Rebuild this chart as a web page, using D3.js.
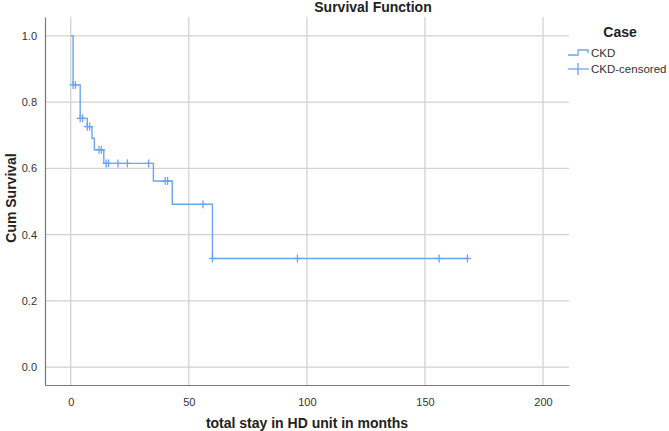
<!DOCTYPE html>
<html>
<head>
<meta charset="utf-8">
<script src="https://cdn.jsdelivr.net/npm/d3@7"></script>
<style>
  body { margin: 0; background: #fff; }
  text { font-family: "Liberation Sans", Arial, sans-serif; }
</style>
</head>
<body>
<svg id="chart" width="669" height="431"></svg>
<script>
// Kaplan-Meier step: event times and survival after each step
var stepTimes = [0, 1, 4, 7, 9, 10, 14, 35, 43, 60];
var stepSurv  = [1.0, 0.852, 0.751, 0.726, 0.691, 0.656, 0.615, 0.562, 0.4915, 0.328];
var lastTime = 168;

// censored observations
var censTimes = [1, 2, 4, 5, 7, 8, 12, 13, 15, 16, 20, 24, 33, 40, 41, 56, 60, 96, 156, 168];

var xTicks = [0, 50, 100, 150, 200];
var yTicks = [0.0, 0.2, 0.4, 0.6, 0.8, 1.0];

var svg = d3.select("#chart");
var pLeft = 45, pRight = 569, pTop = 17, pBottom = 385;

var x = d3.scaleLinear().domain([-10.9, 211]).range([pLeft, pRight]);
var y = d3.scaleLinear().domain([-0.054, 1.057]).range([pBottom, pTop]);

var lineColor = "#6aa5f0";

// grid
svg.append("g").selectAll("line").data(xTicks).enter().append("line")
  .attr("x1", d => x(d)).attr("x2", d => x(d))
  .attr("y1", pTop).attr("y2", pBottom)
  .attr("stroke", "#d2d2d2").attr("stroke-width", 1.3);
svg.append("g").selectAll("line").data(yTicks).enter().append("line")
  .attr("x1", pLeft).attr("x2", pRight)
  .attr("y1", d => y(d)).attr("y2", d => y(d))
  .attr("stroke", "#d2d2d2").attr("stroke-width", 1.3);

// axes
var xAxis = d3.axisBottom(x).tickValues(xTicks).tickSize(0).tickPadding(13).tickFormat(d3.format("d"));
var yAxis = d3.axisLeft(y).tickValues(yTicks).tickSize(0).tickPadding(8).tickFormat(d3.format(".1f"));

var gx = svg.append("g").attr("transform", "translate(0," + pBottom + ")").call(xAxis);
var gy = svg.append("g").attr("transform", "translate(" + pLeft + ",0)").call(yAxis);
[gx, gy].forEach(g => {
  g.select(".domain").attr("stroke", "#777").attr("stroke-width", 1.2);
  g.selectAll("text").attr("font-size", 11).attr("fill", "#333")
    .style("font-family", "'Liberation Sans', Arial, sans-serif");
});

// step line
var pts = [];
stepTimes.forEach((t, i) => {
  if (i > 0) pts.push([t, stepSurv[i - 1]]);
  pts.push([t, stepSurv[i]]);
});
pts.push([lastTime, stepSurv[stepSurv.length - 1]]);

svg.append("path")
  .datum(pts)
  .attr("fill", "none")
  .attr("stroke", lineColor)
  .attr("stroke-width", 1.4)
  .attr("d", d3.line().x(d => x(d[0])).y(d => y(d[1])));

function survAt(t) {
  var s = 1;
  stepTimes.forEach((st, i) => { if (st <= t) s = stepSurv[i]; });
  return s;
}

// censor marks
var cg = svg.append("g").attr("stroke", lineColor).attr("stroke-width", 1.3);
censTimes.forEach(t => {
  var cx = x(t), cy = y(survAt(t));
  cg.append("line").attr("x1", cx).attr("x2", cx).attr("y1", cy - 4).attr("y2", cy + 4);
  cg.append("line").attr("x1", cx - 3.5).attr("x2", cx + 3.5).attr("y1", cy).attr("y2", cy);
});

// titles
svg.append("text").attr("x", 373).attr("y", 12).attr("text-anchor", "middle")
  .attr("font-size", 14).attr("font-weight", "bold").attr("fill", "#222")
  .text("Survival Function");

svg.append("text").attr("x", 307).attr("y", 428).attr("text-anchor", "middle")
  .attr("font-size", 14).attr("font-weight", "bold").attr("fill", "#222")
  .text("total stay in HD unit in months");

svg.append("text").attr("transform", "translate(16,198) rotate(-90)")
  .attr("text-anchor", "middle")
  .attr("font-size", 14).attr("font-weight", "bold").attr("fill", "#222")
  .text("Cum Survival");

// legend
var lg = svg.append("g");
lg.append("text").attr("x", 620).attr("y", 37).attr("text-anchor", "middle")
  .attr("font-size", 14).attr("font-weight", "bold").attr("fill", "#222").text("Case");
lg.append("path")
  .attr("d", "M568,55 H578 V50 H588 V53")
  .attr("fill", "none").attr("stroke", lineColor).attr("stroke-width", 1.3);
lg.append("text").attr("x", 591).attr("y", 57).attr("font-size", 11.5).attr("fill", "#333").text("CKD");
lg.append("line").attr("x1", 568).attr("x2", 589).attr("y1", 69).attr("y2", 69)
  .attr("stroke", lineColor).attr("stroke-width", 1.3);
lg.append("line").attr("x1", 578).attr("x2", 578).attr("y1", 63).attr("y2", 75)
  .attr("stroke", lineColor).attr("stroke-width", 1.3);
lg.append("text").attr("x", 591).attr("y", 73).attr("font-size", 11.5).attr("fill", "#333").text("CKD-censored");
</script>
</body>
</html>
